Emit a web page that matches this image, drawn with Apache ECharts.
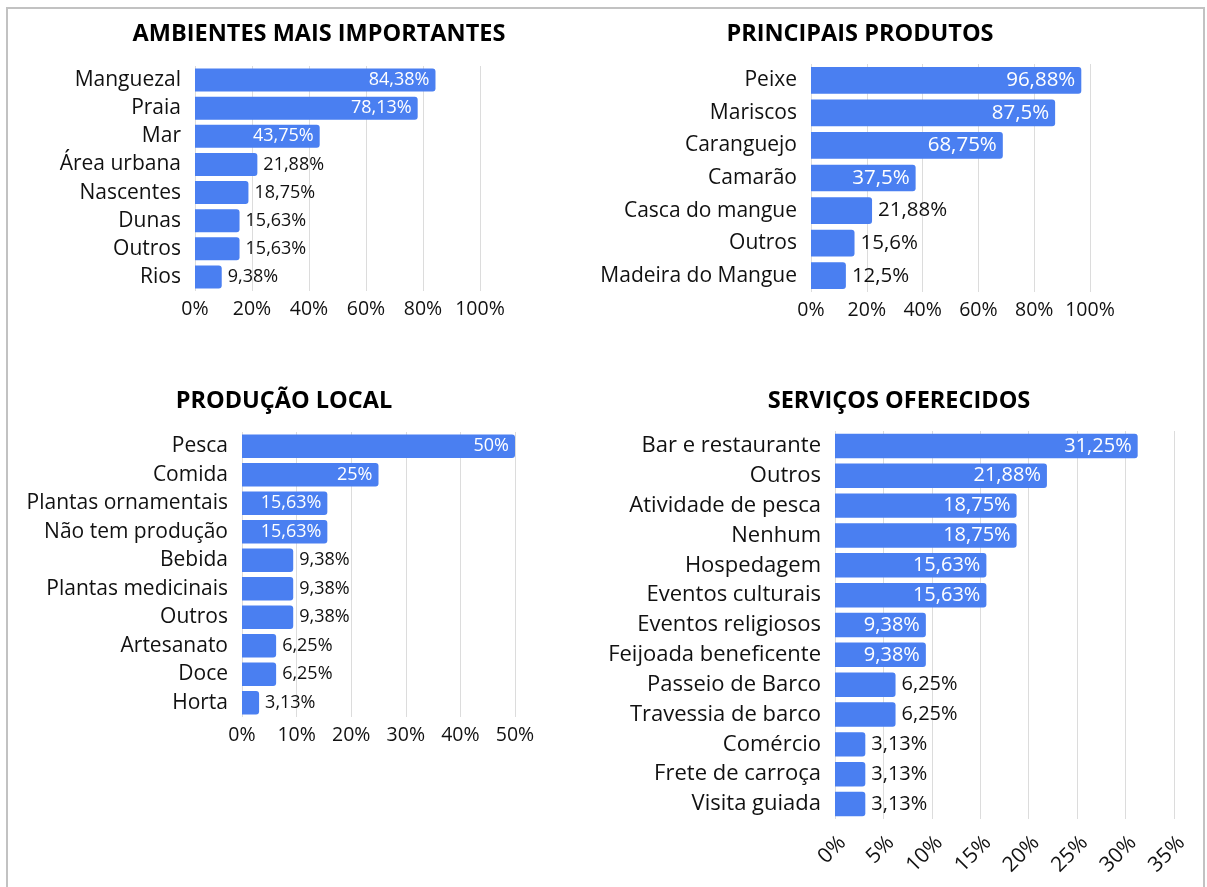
<!DOCTYPE html>
<html>
<head>
<meta charset="utf-8">
<script src="https://cdn.jsdelivr.net/npm/echarts@6/dist/echarts.min.js"></script>
<style>
  html, body { margin: 0; padding: 0; background: #fff; }
  #chart { width: 1207px; height: 887px; }
</style>
</head>
<body>
<div id="chart"></div>
<script>
// dados
const ambientesCats = ['Manguezal', 'Praia', 'Mar', 'Área urbana', 'Nascentes', 'Dunas', 'Outros', 'Rios']
const ambientesVals = [84.38, 78.13, 43.75, 21.88, 18.75, 15.63, 15.63, 9.38]

const produtosCats = ['Peixe', 'Mariscos', 'Caranguejo', 'Camarão', 'Casca do mangue', 'Outros', 'Madeira do Mangue']
const produtosVals = [96.88, 87.5, 68.75, 37.5, 21.88, 15.6, 12.5]

const producaoCats = ['Pesca', 'Comida', 'Plantas ornamentais', 'Não tem produção', 'Bebida', 'Plantas medicinais', 'Outros', 'Artesanato', 'Doce', 'Horta']
const producaoVals = [50, 25, 15.63, 15.63, 9.38, 9.38, 9.38, 6.25, 6.25, 3.13]

const servicosCats = ['Bar e restaurante', 'Outros', 'Atividade de pesca', 'Nenhum', 'Hospedagem', 'Eventos culturais', 'Eventos religiosos', 'Feijoada beneficente', 'Passeio de Barco', 'Travessia de barco', 'Comércio', 'Frete de carroça', 'Visita guiada']
const servicosVals = [31.25, 21.88, 18.75, 18.75, 15.63, 15.63, 9.38, 9.38, 6.25, 6.25, 3.13, 3.13, 3.13]

const titles = ['AMBIENTES MAIS IMPORTANTES', 'PRINCIPAIS PRODUTOS', 'PRODUÇÃO LOCAL', 'SERVIÇOS OFERECIDOS']
const axisMax = [100, 100, 50, 35]
const axisStep = [20, 20, 10, 5]

const FONT = '"Open Sans", "Noto Sans", sans-serif'
const BLUE = '#4a7ff1'

const panels = [
  { cats: ambientesCats, vals: ambientesVals, grid: { left: 195, top: 66, width: 285, height: 225 }, title: [314, 17], catFont: 21, valFont: 18 },
  { cats: produtosCats, vals: produtosVals, grid: { left: 811, top: 64, width: 279, height: 228 }, title: [855, 17], catFont: 21, valFont: 20.5 },
  { cats: producaoCats, vals: producaoVals, grid: { left: 242, top: 432, width: 273, height: 285 }, title: [279, 384], catFont: 21, valFont: 18 },
  { cats: servicosCats, vals: servicosVals, grid: { left: 835, top: 431, width: 339, height: 388 }, title: [894, 384], catFont: 22, valFont: 20 }
]

const fmt = v => String(v).replace('.', ',') + '%'

// largura aproximada do rótulo, para decidir se cabe dentro da barra
const labelWidth = (s, fs) => {
  let w = 0
  for (const ch of s) w += ch === ',' ? 0.27 : ch === '%' ? 0.82 : 0.572
  return w * fs
}

const option = {
  animation: false,
  backgroundColor: '#fff',
  textStyle: { fontFamily: FONT },
  title: panels.map((p, i) => ({
    text: titles[i],
    left: p.title[0],
    top: p.title[1],
    textAlign: 'center',
    textStyle: { fontFamily: FONT, fontSize: 23.5, fontWeight: 'bold', color: '#000' }
  })),
  grid: panels.map(p => Object.assign({}, p.grid)),
  xAxis: panels.map((p, i) => ({
    type: 'value',
    gridIndex: i,
    min: 0,
    max: axisMax[i],
    interval: axisStep[i],
    axisLine: { show: false },
    axisTick: { show: false },
    splitLine: { show: true, lineStyle: { color: '#dcdcdc', width: 1 } },
    axisLabel: i === 3
      ? { formatter: '{value}%', color: '#111', fontSize: 21, fontFamily: FONT, margin: 13, rotate: 45, verticalAlign: 'top' }
      : { formatter: '{value}%', color: '#111', fontSize: 19.5, fontFamily: FONT, margin: 8 }
  })),
  yAxis: panels.map((p, i) => ({
    type: 'category',
    gridIndex: i,
    data: p.cats,
    inverse: true,
    axisLine: { show: false },
    axisTick: { show: false },
    axisLabel: { color: '#111', fontSize: p.catFont, fontFamily: FONT, margin: 14 }
  })),
  series: panels.map((p, i) => ({
    type: 'bar',
    xAxisIndex: i,
    yAxisIndex: i,
    barCategoryGap: '18%',
    itemStyle: { color: BLUE, borderRadius: [0, 3, 3, 0] },
    data: p.vals.map(v => {
      const txt = fmt(v)
      const barPx = v / axisMax[i] * p.grid.width
      const inside = barPx - labelWidth(txt, p.valFont) > 20
      return {
        value: v,
        label: inside
          ? { show: true, position: 'insideRight', distance: 6, color: '#fff' }
          : { show: true, position: 'right', distance: 6, color: '#111' }
      }
    }),
    label: { show: true, fontSize: p.valFont, fontFamily: FONT, formatter: d => fmt(d.value) }
  })),
  graphic: [
    {
      type: 'rect',
      shape: { x: 7, y: 8, width: 1197, height: 900 },
      style: { fill: 'none', stroke: '#c2c2c2', lineWidth: 2 },
      silent: true
    }
  ]
}

const chart = echarts.init(document.getElementById('chart'))
chart.setOption(option)
window.addEventListener('resize', () => chart.resize())
</script>
</body>
</html>
